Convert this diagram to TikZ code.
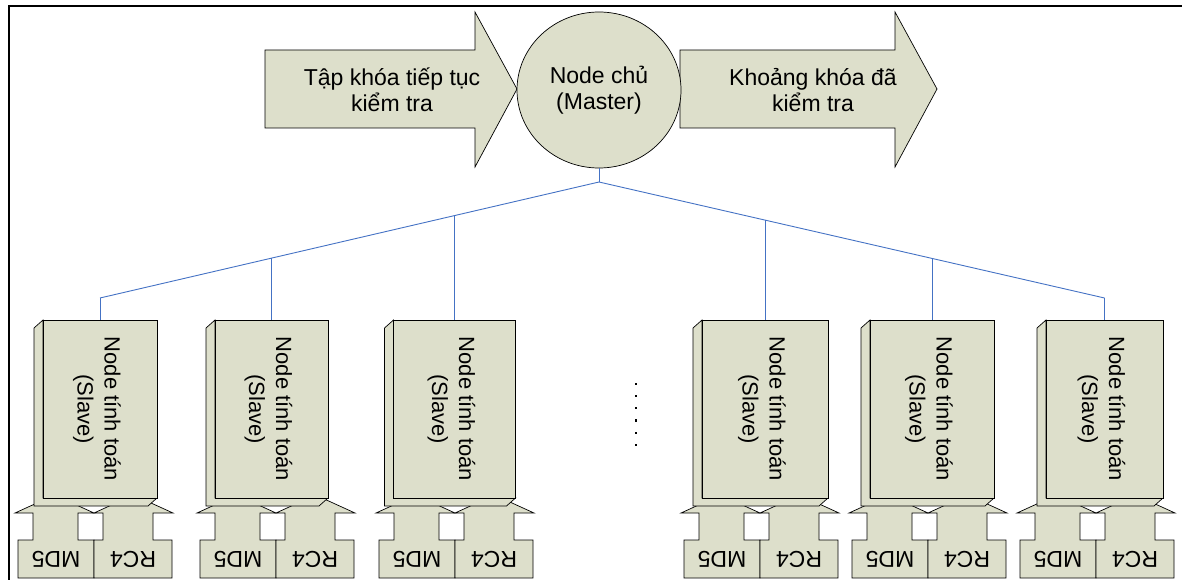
\documentclass[tikz,border=0pt]{standalone}
\usepackage{fontspec}
\setmainfont{Liberation Sans}
\usetikzlibrary{shapes.geometric}
\definecolor{boxfill}{RGB}{221,223,203}
\definecolor{treeblue}{RGB}{68,114,196}

\begin{document}
\begin{tikzpicture}[x=1pt,y=-1pt,
  shapeline/.style={draw=black, line width=0.7pt, fill=boxfill},
  lbl/.style={font=\fontsize{23}{26}\selectfont, align=center, inner sep=0pt},
  slavelbl/.style={font=\fontsize{22}{27}\selectfont, align=center, inner sep=0pt, rotate=-90},
  link/.style={draw=treeblue, line width=0.9pt},
]
\useasboundingbox (0,0) rectangle (1182,580);

% frame
\draw[line width=2pt] (9,580) -- (9,6) -- (1182,6);

% input and output block arrows
\draw[shapeline] (265,50) -- (475,50) -- (475,12) -- (517,89) -- (475,167) -- (475,128) -- (265,128) -- cycle;
\draw[shapeline] (680,50) -- (895,50) -- (895,12) -- (937,89) -- (895,167) -- (895,128) -- (680,128) -- cycle;
\node[lbl] (inkeys) at (392,90) {Tập khóa tiếp tục\\kiểm tra};
\node[lbl] (outkeys) at (813,90) {Khoảng khóa đã\\kiểm tra};

% master node
\node[ellipse, shapeline, minimum width=164pt, minimum height=156pt, lbl] (master) at (599,90) {Node chủ\\(Master)};

% distribution tree
\coordinate (hub) at (599,182);
\coordinate (j1) at (100,298);
\coordinate (j2) at (271.5,258);
\coordinate (j3) at (454.5,215.5);
\coordinate (j4) at (765,220);
\coordinate (j5) at (932,258);
\coordinate (j6) at (1104.5,298);
\draw[link] (master.south) -- (hub);
\draw[link] (j1) -- (hub) -- (j6);

% worker nodes (centre, width) with their MD5 / RC4 modules (reference point \d)
\foreach \i/\c/\w/\d in {1/100/114/100, 2/271.5/113/282, 3/454.5/122/461,
                         4/765/126/766, 5/932/124/934, 6/1104.5/117/1102} {
  % MD5 callout
  \draw[shapeline] (\d-82,578) -- (\d-82,540) -- (\d-67,540) -- (\d-67,513) -- (\d-85,513)
     -- (\d-45.5,495) -- (\d-6,513) -- (\d-22,513) -- (\d-22,540) -- (\d-6,540) -- (\d-6,578) -- cycle;
  % RC4 callout
  \draw[shapeline] (\d-6,578) -- (\d-6,540) -- (\d+3,540) -- (\d+3,513) -- (\d-6,513)
     -- (\d+33.5,495) -- (\d+73,513) -- (\d+53,513) -- (\d+53,540) -- (\d+72,540) -- (\d+72,578) -- cycle;
  \node[lbl, rotate=180] (md\i) at (\d-44,559) {MD5};
  \node[lbl, rotate=180] (rc\i) at (\d+33,559) {RC4};
  % box depth faces
  \draw[shapeline] (\c-\w/2,320) -- (\c-\w/2-9,328) -- (\c-\w/2-9,506) -- (\c+\w/2-9,506)
     -- (\c+\w/2,498) -- (\c-\w/2,498) -- cycle;
  % box front face
  \node[shapeline, minimum width=\w pt, minimum height=178pt, inner sep=0pt] (s\i) at (\c,409) {};
  \node[slavelbl] (st\i) at ([xshift=-3pt]s\i.center) {Node tính toán\\(Slave)};
  \draw[link] (j\i) -- (s\i.north);
}

% ellipsis between the two groups
\foreach \k in {0,...,5}
  \fill (635,385+12.2*\k) rectangle ++(2.2,-2.2);
\end{tikzpicture}
\end{document}
